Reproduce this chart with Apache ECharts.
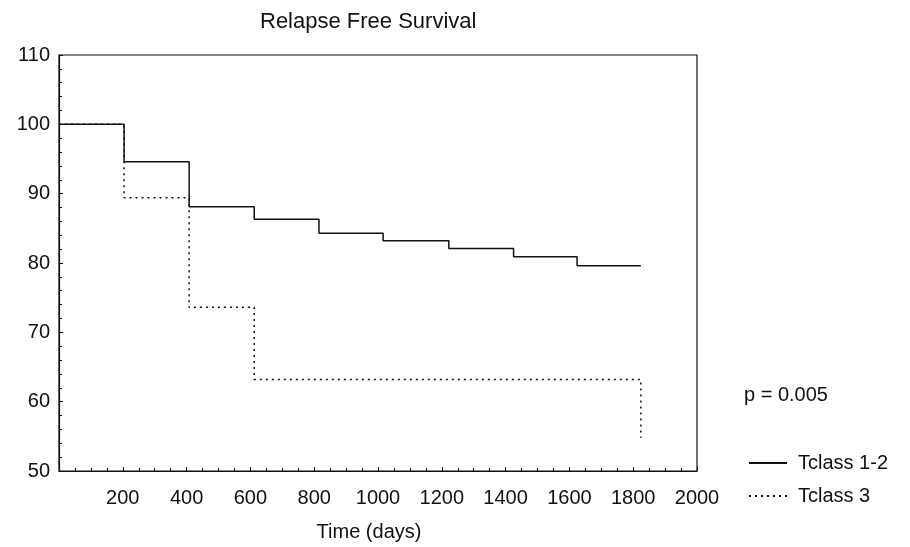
<!DOCTYPE html>
<html>
<head>
<meta charset="utf-8">
<script src="https://cdn.jsdelivr.net/npm/echarts@6/dist/echarts.min.js"></script>
<style>
	html, body { margin: 0; padding: 0; background: #fff; }
	#main { width: 910px; height: 547px; }
</style>
</head>
<body>
<div id="main"></div>
<script>
/*数据*/
var seriesNames = ['Tclass 1-2', 'Tclass 3'];
var tclass12Days = [0, 204, 408, 612, 815, 1016, 1222, 1425, 1624, 1824];
var tclass12Surv = [100, 94.6, 88.1, 86.3, 84.3, 83.2, 82.1, 80.9, 79.6, 79.6];
var tclass3Days = [0, 204, 408, 612, 1824];
var tclass3Surv = [100, 89.4, 73.6, 63.2, 54.8];
var pValueText = 'p = 0.005';

function toPairs(xs, ys){
	var out = [];
	for (var i = 0; i < xs.length; i++) {
		out.push([xs[i], ys[i]]);
	}
	return out;
}

var fontFam = 'Liberation Sans, Arial, sans-serif';
var chart = echarts.init(document.getElementById('main'));
var option = {
	backgroundColor : '#fff',
	animation : false,
	title : {
		text : 'Relapse Free Survival',
		left : 255,
		top : 6,
		textStyle : {
			fontFamily : fontFam,
			fontSize : 22,
			fontWeight : 'normal',
			color : '#111'
		}
	},
	grid : {
		left : 59,
		right : 213,
		top : 55,
		bottom : 68,
		show : true,
		borderColor : '#111',
		borderWidth : 1.2
	},
	legend : {
		orient : 'vertical',
		left : 743,
		top : 448,
		itemWidth : 38,
		itemHeight : 14,
		itemGap : 13,
		data : seriesNames,
		itemStyle : { opacity : 0 },
		textStyle : {
			fontFamily : fontFam,
			fontSize : 20,
			color : '#111',
			padding : [0, 0, 0, 6]
		}
	},
	graphic : [ {
		type : 'text',
		left : 744,
		top : 385,
		style : {
			text : pValueText,
			font : '20px ' + fontFam,
			fill : '#111'
		}
	} ],
	xAxis : {
		type : 'value',
		min : 0,
		max : 2000,
		interval : 200,
		name : 'Time (days)',
		nameLocation : 'middle',
		nameGap : 51,
		nameTextStyle : {
			fontFamily : fontFam,
			fontSize : 20,
			color : '#111',
			padding : [0, 18, 0, 0]
		},
		axisLine : { lineStyle : { color : '#111', width : 1.2 } },
		axisTick : { inside : true, length : 4, lineStyle : { color : '#111' } },
		minorTick : { show : true, splitNumber : 4, length : 3, lineStyle : { color : '#111' } },
		splitLine : { show : false },
		axisLabel : {
			showMinLabel : false,
			margin : 17,
			fontFamily : fontFam,
			fontSize : 20,
			color : '#111',
			formatter : function(v){ return String(v); }
		}
	},
	yAxis : {
		type : 'value',
		min : 50,
		max : 110,
		interval : 10,
		axisLine : { show : true, lineStyle : { color : '#111', width : 1.2 } },
		axisTick : { show : true, inside : true, length : 4, lineStyle : { color : '#111' } },
		minorTick : { show : true, splitNumber : 5, length : 3, lineStyle : { color : '#111' } },
		splitLine : { show : false },
		axisLabel : {
			margin : 9,
			fontFamily : fontFam,
			fontSize : 20,
			color : '#111'
		}
	},
	series : [ {
		name : seriesNames[0],
		type : 'line',
		step : 'end',
		symbol : 'none',
		data : toPairs(tclass12Days, tclass12Surv),
		lineStyle : { color : '#111', width : 1.5 },
		itemStyle : { color : '#111' }
	}, {
		name : seriesNames[1],
		type : 'line',
		step : 'end',
		symbol : 'none',
		data : toPairs(tclass3Days, tclass3Surv),
		lineStyle : { color : '#111', width : 1.5, type : [2, 4] },
		itemStyle : { color : '#111' }
	} ]
};
chart.setOption(option);
</script>
</body>
</html>
